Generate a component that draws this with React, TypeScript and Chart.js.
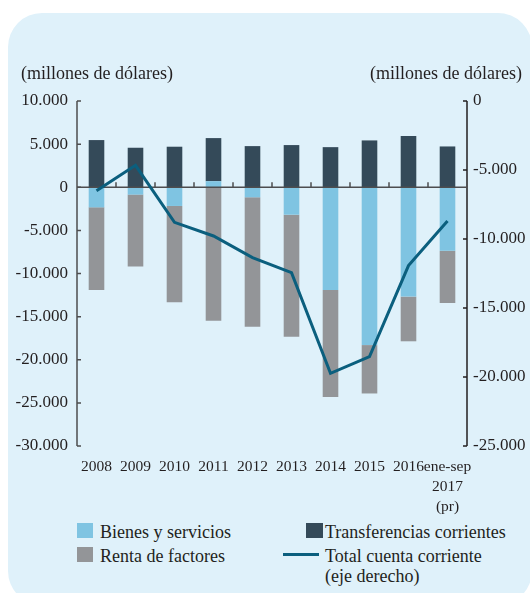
import React, { useEffect, useRef } from "react";
import { Chart, registerables } from "chart.js";

Chart.register(...registerables);

const categories: (string | string[])[] = [
  "2008", "2009", "2010", "2011", "2012", "2013", "2014", "2015", "2016",
  ["ene-sep", "2017", "(pr)"],
];
const bienesYServicios = [-2330, -850, -2170, 700, -1160, -3180, -11900, -18300, -12680, -7360];
const rentaDeFactores = [-9570, -8340, -11160, -15470, -15000, -14150, -12410, -5610, -5180, -6050];
const transferenciasCorrientes = [5470, 4580, 4700, 5000, 4770, 4890, 4650, 5430, 5930, 4730];
const totalCuentaCorriente = [-6500, -4660, -8790, -9780, -11350, -12440, -19730, -18530, -11930, -8700];

const leftTicks = { min: -30000, max: 10000, step: 5000 };
const rightTicks = { min: -25000, max: 0, step: 5000 };

const COLORS = {
  panel: "#dff1fa",
  bienes: "#7fc4e2",
  renta: "#939598",
  transfer: "#344a59",
  line: "#0b5f7e",
  axis: "#4d4d4f",
  text: "#231f20",
};

const FONT = "'Liberation Serif', 'Times New Roman', serif";

const fmt = (v: number) =>
  (v < 0 ? "-" : "") + Math.abs(v).toString().replace(/\B(?=(\d{3})+(?!\d))/g, ".");

const axesPlugin = {
  id: "customAxes",
  beforeDatasetDraw(chart: any, args: any) {
    if (args.index !== 0) return;
    const { ctx, chartArea: ca, scales } = chart;
    const y = scales.y;
    const y1 = scales.y1;
    const x = scales.x;
    ctx.save();
    ctx.lineWidth = 1.5;
    ctx.strokeStyle = COLORS.axis;
    // left axis
    ctx.beginPath();
    ctx.moveTo(ca.left, y.getPixelForValue(leftTicks.max));
    ctx.lineTo(ca.left, y.getPixelForValue(leftTicks.min));
    for (const t of y.ticks) {
      const py = y.getPixelForValue(t.value);
      ctx.moveTo(ca.left, py);
      ctx.lineTo(ca.left + 4, py);
    }
    ctx.stroke();
    // right axis
    ctx.strokeStyle = "#231f20";
    ctx.beginPath();
    ctx.moveTo(ca.right, y1.getPixelForValue(rightTicks.max));
    ctx.lineTo(ca.right, y1.getPixelForValue(rightTicks.min));
    for (const t of y1.ticks) {
      const py = y1.getPixelForValue(t.value);
      ctx.moveTo(ca.right, py);
      ctx.lineTo(ca.right - 4, py);
    }
    ctx.stroke();
    // zero line
    ctx.strokeStyle = COLORS.axis;
    const z = y.getPixelForValue(0);
    ctx.beginPath();
    ctx.moveTo(ca.left, z);
    ctx.lineTo(ca.right, z);
    for (let i = 1; i < categories.length; i++) {
      const px = (x.getPixelForValue(i - 1) + x.getPixelForValue(i)) / 2;
      ctx.moveTo(px, z);
      ctx.lineTo(px, z - 5);
    }
    ctx.stroke();
    ctx.restore();
  },
};

export default function App() {
  const canvasRef = useRef<HTMLCanvasElement | null>(null);

  useEffect(() => {
    if (!canvasRef.current) return;
    const chart = new Chart(canvasRef.current, {
      type: "bar",
      data: {
        labels: categories as any,
        datasets: [
          {
            type: "line",
            label: "Total cuenta corriente (eje derecho)",
            data: totalCuentaCorriente,
            yAxisID: "y1",
            borderColor: COLORS.line,
            backgroundColor: COLORS.line,
            borderWidth: 3,
            pointRadius: 0,
            tension: 0,
            fill: false,
          } as any,
          {
            label: "Bienes y servicios",
            data: bienesYServicios,
            backgroundColor: COLORS.bienes,
            yAxisID: "y",
            barPercentage: 0.4,
            categoryPercentage: 1,
          },
          {
            label: "Renta de factores",
            data: rentaDeFactores,
            backgroundColor: COLORS.renta,
            yAxisID: "y",
            barPercentage: 0.4,
            categoryPercentage: 1,
          },
          {
            label: "Transferencias corrientes",
            data: transferenciasCorrientes,
            backgroundColor: COLORS.transfer,
            yAxisID: "y",
            barPercentage: 0.4,
            categoryPercentage: 1,
          },
        ],
      },
      options: {
        animation: false,
        responsive: false,
        devicePixelRatio: 1,
        layout: { padding: { top: 101, left: 0, right: 0, bottom: 0 } },
        plugins: { legend: { display: false }, tooltip: { enabled: false } },
        scales: {
          x: {
            stacked: true,
            grid: { display: false, drawTicks: false },
            border: { display: false },
            ticks: {
              color: COLORS.text,
              font: { family: FONT, size: 15.5, lineHeight: 1.28 },
              padding: 11,
              maxRotation: 0,
              autoSkip: false,
            },
            afterFit: (s: any) => { s.height = 69; },
          },
          y: {
            stacked: true,
            position: "left",
            min: leftTicks.min,
            max: leftTicks.max,
            grid: { display: false, drawTicks: false },
            border: { display: false },
            ticks: {
              stepSize: leftTicks.step,
              color: COLORS.text,
              font: { family: FONT, size: 17 },
              padding: 9,
              callback: (v: any) => fmt(Number(v)),
            },
            afterFit: (s: any) => { s.width = 77; },
          },
          y1: {
            position: "right",
            min: rightTicks.min,
            max: rightTicks.max,
            grid: { display: false, drawTicks: false },
            border: { display: false },
            ticks: {
              stepSize: rightTicks.step,
              color: COLORS.text,
              font: { family: FONT, size: 17 },
              padding: 6,
              callback: (v: any) => fmt(Number(v)),
            },
            afterFit: (s: any) => { s.width = 63; },
          },
        },
      } as any,
      plugins: [axesPlugin],
    });
    return () => chart.destroy();
  }, []);

  const textStyle: React.CSSProperties = {
    position: "absolute",
    fontFamily: FONT,
    fontSize: 18,
    lineHeight: "20px",
    color: COLORS.text,
    whiteSpace: "nowrap",
  };

  return (
    <div style={{ position: "fixed", left: 0, top: 0, width: 530, height: 593, overflow: "hidden", background: "#fff" }}>
      <div
        style={{
          position: "absolute",
          left: 8,
          top: 13,
          width: 524,
          height: 592,
          borderRadius: 34,
          background: COLORS.panel,
        }}
      />
      <canvas
        ref={canvasRef}
        width={530}
        height={515}
        style={{ position: "absolute", left: 0, top: 0, width: 530, height: 515 }}
      />
      <div style={{ ...textStyle, left: 21, top: 63 }}>(millones de dólares)</div>
      <div style={{ ...textStyle, right: 8, top: 63 }}>(millones de dólares)</div>

      <div style={{ position: "absolute", left: 77, top: 523, width: 16, height: 15, background: COLORS.bienes }} />
      <div style={{ ...textStyle, left: 100, top: 522 }}>Bienes y servicios</div>
      <div style={{ position: "absolute", left: 77, top: 547, width: 16, height: 15, background: COLORS.renta }} />
      <div style={{ ...textStyle, left: 100, top: 546 }}>Renta de factores</div>

      <div style={{ position: "absolute", left: 306, top: 523, width: 17, height: 15, background: COLORS.transfer }} />
      <div style={{ ...textStyle, left: 325, top: 522 }}>Transferencias corrientes</div>
      <div style={{ position: "absolute", left: 283, top: 553, width: 36, height: 3, background: COLORS.line }} />
      <div style={{ ...textStyle, left: 325, top: 546 }}>Total cuenta corriente</div>
      <div style={{ ...textStyle, left: 325, top: 566 }}>(eje derecho)</div>
    </div>
  );
}
